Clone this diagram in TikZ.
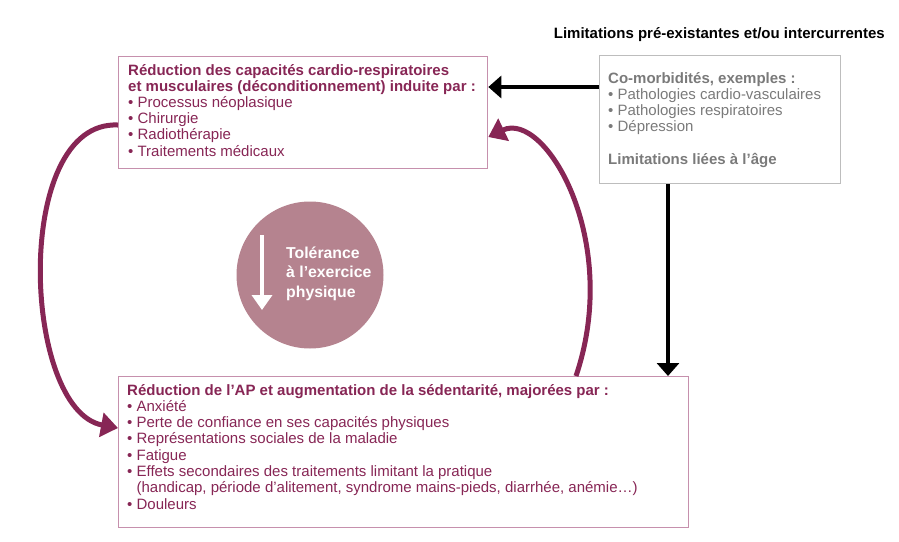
\documentclass[tikz,border=0pt]{standalone}
\usepackage{fontspec}
\setmainfont{Liberation Sans}
\usetikzlibrary{arrows.meta}
\definecolor{maroon}{HTML}{872655}
\definecolor{pinkline}{HTML}{C690AD}
\definecolor{dusty}{HTML}{B5838F}
\definecolor{greytxt}{HTML}{7A7A7A}
\definecolor{greyline}{HTML}{BDBDBD}
\tikzset{
  box/.style={draw=pinkline, line width=1.3pt, rectangle, anchor=north west, inner sep=0pt},
  gbox/.style={draw=greyline, line width=1.3pt, rectangle, anchor=north west, inner sep=0pt},
  txtline/.style={anchor=base west, inner sep=0pt, font=\fontsize{15}{16}\selectfont},
  marrow/.style={draw=maroon, line width=5pt, -{Triangle[length=17pt,width=24pt]}},
  barrow/.style={draw=black, line width=4.3pt, -{Triangle[length=13pt,width=22pt]}},
}
\begin{document}
\begin{tikzpicture}[x=1pt,y=-1pt]
\useasboundingbox (0,0) rectangle (899,541);
% boxes
\node[box, minimum width=369pt, minimum height=112pt] (top) at (118,56) {};
\node[box, minimum width=570pt, minimum height=151pt] (bot) at (118,376) {};
\node[gbox, minimum width=241pt, minimum height=128pt] (grey) at (599,55) {};
% texts
\foreach \t [count=\i from 0] in {
  {\textbf{Réduction des capacités cardio-respiratoires}},
  {\textbf{et musculaires (déconditionnement) induite par :}},
  {• Processus néoplasique},
  {• Chirurgie},
  {• Radiothérapie},
  {• Traitements médicaux}}
  \node[txtline, text=maroon] (tl\i) at (128,75+16.2*\i) {\t};
\foreach \t [count=\i from 0] in {
  {\textbf{Réduction de l’AP et augmentation de la sédentarité, majorées par :}},
  {• Anxiété},
  {• Perte de confiance en ses capacités physiques},
  {• Représentations sociales de la maladie},
  {• Fatigue},
  {• Effets secondaires des traitements limitant la pratique},
  {\phantom{• }(handicap, période d’alitement, syndrome mains-pieds, diarrhée, anémie…)},
  {• Douleurs}}
  \node[txtline, text=maroon] (bl\i) at (127,395+16.3*\i) {\t};
\foreach \t [count=\i from 0] in {
  {\textbf{Co-morbidités, exemples :}},
  {• Pathologies cardio-vasculaires},
  {• Pathologies respiratoires},
  {• Dépression}}
  \node[txtline, text=greytxt] (gl\i) at (608,83+16.2*\i) {\t};
\node[txtline, text=greytxt] (gl4) at (608,164) {\textbf{Limitations liées à l’âge}};
\node[anchor=base east, inner sep=0pt, font=\fontsize{15}{16}\selectfont\bfseries] (title) at (885,38) {Limitations pré-existantes et/ou intercurrentes};
% circle
\node[circle, fill=dusty, minimum size=147pt, inner sep=0pt] (circ) at (310,275) {};
\foreach \t [count=\i from 0] in {Tolérance,à l’exercice,physique}
  \node[anchor=base west, inner sep=0pt, text=white, font=\fontsize{15.8}{19}\selectfont\bfseries] (ct\i) at (286,258+19.5*\i) {\t};
\coordinate (wa1) at (262,235);
\coordinate (wa2) at (262,310);
\draw[draw=white, line width=3.6pt, -{Triangle[length=15pt,width=20pt]}] (wa1) -- (wa2);
% black arrows
\draw[barrow] (grey.west |- 0,87) -- (top.east |- 0,87);
\draw[barrow] (grey.south -| 668,0) -- (bot.north -| 668,0);
% maroon curves
\draw[marrow] (top.west |- 0,125) .. controls (12,120) and (22,410) .. (bot.west |- 0,428);
\draw[marrow] (bot.north -| 576,0) .. controls (622,240) and (545,110) .. (top.east |- 0,137);
\end{tikzpicture}
\end{document}
